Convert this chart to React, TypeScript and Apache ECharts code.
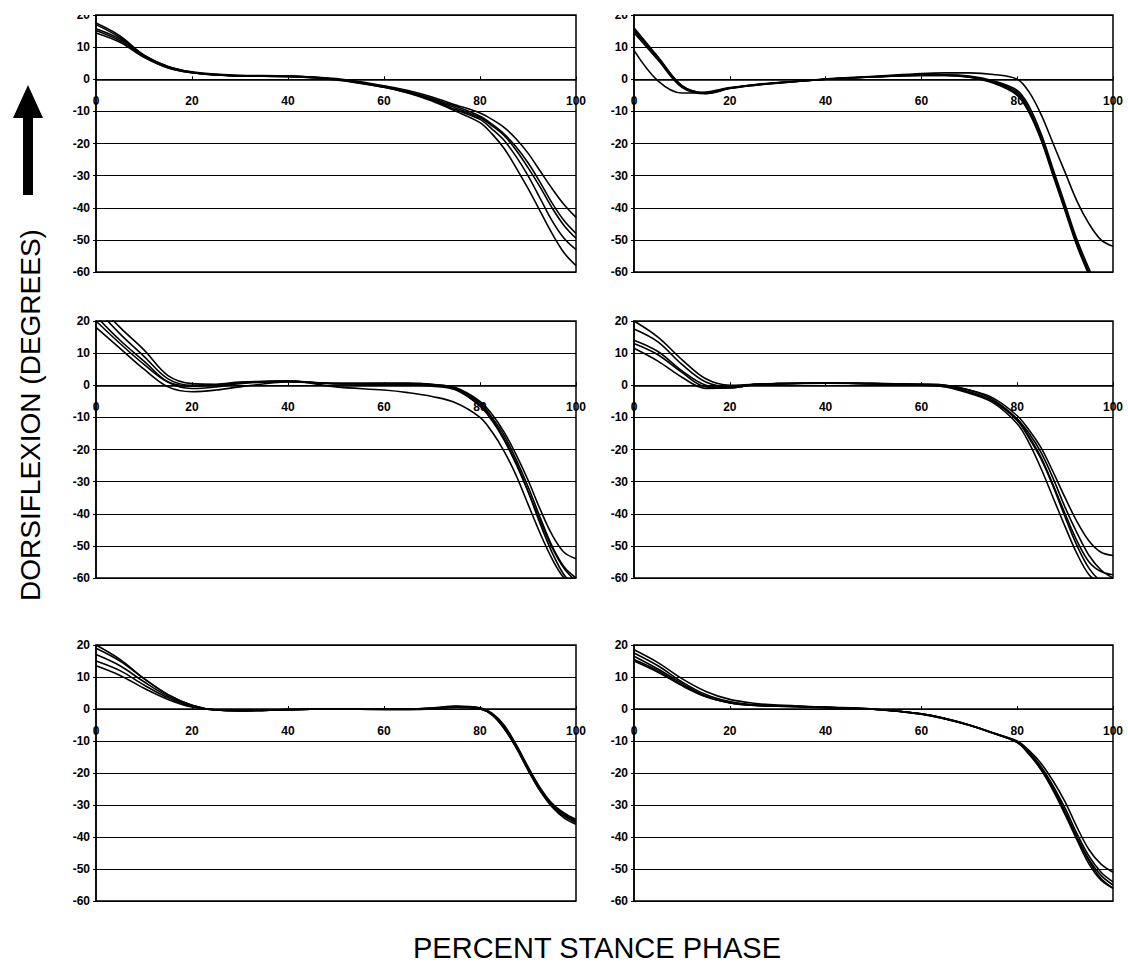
import React, { useEffect, useRef } from "react";
import * as echarts from "echarts";

// Percent stance phase sample points
const X = [0, 5, 10, 15, 20, 25, 30, 40, 50, 60, 65, 70, 75, 80, 82.5, 85, 87.5, 90, 92.5, 95, 97.5, 100];

// Y axis ticks (degrees)
const Y_MIN = -60;
const Y_MAX = 20;
const Y_STEP = 10;

// Panel A (top left)
const a1 = [17.5, 13.5, 7.5, 4.0, 2.3, 1.6, 1.2, 1.0, 0.2, -2.0, -3.5, -5.5, -8.0, -10.5, -12.5, -15.0, -18.5, -23.0, -28.5, -34.0, -39.0, -43.0];
const a2 = [17.0, 13.0, 7.5, 4.0, 2.2, 1.5, 1.1, 1.0, 0.0, -2.2, -3.8, -6.0, -8.5, -11.5, -14.0, -17.0, -21.0, -26.0, -32.0, -38.5, -44.0, -48.0];
const a3 = [15.7, 12.5, 7.2, 3.8, 2.1, 1.4, 1.0, 0.9, 0.0, -2.3, -4.0, -6.2, -9.0, -12.0, -14.5, -17.5, -22.0, -27.5, -33.5, -40.0, -45.5, -49.5];
const a4 = [15.2, 12.0, 7.0, 3.6, 2.0, 1.3, 1.0, 0.9, -0.1, -2.5, -4.2, -6.5, -9.5, -12.5, -15.5, -19.0, -24.0, -30.0, -37.0, -44.0, -49.5, -53.0];
const a5 = [14.4, 11.5, 6.8, 3.5, 2.0, 1.3, 1.0, 0.8, -0.2, -2.5, -4.3, -6.8, -10.0, -13.5, -17.0, -21.5, -27.5, -34.0, -41.0, -48.0, -54.0, -58.0];

// Panel B (top right)
const b1 = [9.0, -0.5, -4.3, -4.0, -2.6, -1.8, -1.1, 0.0, 0.8, 1.3, 1.4, 1.0, -0.5, -3.5, -8.5, -17.0, -28.0, -39.0, -50.0, -59.0, -67.0, -74.0];
const b2 = [16.0, 7.0, -2.0, -4.3, -2.8, -1.8, -1.1, 0.0, 0.8, 1.3, 1.3, 0.8, -0.8, -4.0, -9.5, -18.0, -29.0, -40.0, -51.0, -60.0, -68.0, -75.0];
const b3 = [15.5, 6.5, -2.3, -4.4, -2.8, -1.9, -1.2, 0.0, 0.7, 1.2, 1.2, 0.7, -1.0, -4.5, -10.0, -18.5, -29.5, -40.5, -51.5, -60.5, -69.0, -76.0];
const b4 = [14.5, 6.0, -2.5, -4.5, -2.9, -1.9, -1.2, 0.0, 0.7, 1.2, 1.2, 0.6, -1.2, -5.0, -10.5, -19.0, -30.0, -41.0, -52.0, -61.0, -70.0, -77.0];
const b5 = [15.0, 6.8, -2.0, -4.2, -2.7, -1.7, -1.0, 0.1, 0.9, 1.8, 2.0, 2.0, 1.5, 0.0, -4.0, -11.0, -20.0, -29.0, -38.0, -45.0, -50.0, -52.0];

// Panel C (middle left)
const c1 = [18.0, 11.5, 5.0, -0.5, -2.0, -1.5, -0.5, 1.0, 0.5, 0.3, 0.2, -0.3, -1.5, -6.5, -11.0, -17.0, -24.5, -33.0, -42.0, -50.5, -57.0, -61.0];
const c2 = [21.5, 14.0, 7.5, 1.0, -1.0, -0.5, 0.5, 1.2, 0.5, 0.5, 0.5, 0.0, -1.2, -6.0, -10.5, -16.5, -24.0, -33.0, -43.0, -52.0, -59.0, -63.0];
const c3 = [24.0, 16.0, 9.0, 2.0, 0.0, 0.0, 0.8, 1.2, 0.5, 0.6, 0.6, 0.2, -1.0, -5.5, -10.0, -15.5, -23.0, -31.5, -41.0, -50.0, -56.5, -60.0];
const c4 = [26.0, 18.0, 11.0, 3.0, 0.5, 0.3, 1.0, 1.3, 0.6, 0.6, 0.6, 0.3, -0.8, -5.0, -9.0, -14.5, -21.5, -29.5, -38.5, -46.5, -52.0, -54.0];
const c5 = [20.0, 13.0, 6.5, 1.0, -0.3, 0.0, 0.8, 1.3, -0.5, -1.5, -2.3, -3.5, -5.5, -10.0, -14.5, -20.5, -28.0, -37.0, -46.0, -54.0, -60.0, -63.0];

// Panel D (middle right)
const d1 = [20.0, 15.0, 8.0, 2.0, 0.0, 0.3, 0.5, 0.7, 0.5, 0.3, 0.0, -1.5, -4.5, -10.5, -15.0, -21.0, -29.0, -38.0, -46.0, -53.0, -57.5, -60.0];
const d2 = [17.5, 13.5, 6.5, 1.0, -0.5, 0.3, 0.5, 0.7, 0.5, 0.2, -0.3, -2.0, -5.0, -11.0, -16.5, -23.0, -31.5, -41.0, -50.0, -57.0, -61.0, -62.0];
const d3 = [14.0, 10.5, 4.5, 0.0, -0.8, 0.2, 0.5, 0.7, 0.5, 0.0, -0.5, -2.5, -5.5, -12.0, -18.0, -26.0, -35.0, -44.0, -52.5, -59.0, -62.0, -64.0];
const d4 = [13.0, 9.5, 4.0, -0.5, -0.8, 0.2, 0.5, 0.7, 0.5, 0.3, 0.0, -1.5, -4.0, -9.5, -14.0, -19.5, -27.0, -35.0, -42.5, -48.5, -52.0, -53.0];
const d5 = [11.5, 7.5, 2.5, -1.0, -0.8, 0.1, 0.4, 0.6, 0.5, 0.1, -0.4, -2.2, -5.0, -10.5, -16.0, -22.5, -31.0, -40.0, -48.5, -55.0, -58.0, -59.0];

// Panel E (bottom left)
const e1 = [20.0, 15.5, 9.5, 4.5, 1.2, -0.3, -0.5, -0.2, 0.0, 0.0, 0.0, 0.2, 0.8, 0.3, -1.5, -5.5, -11.5, -18.5, -25.0, -30.0, -33.0, -35.0];
const e2 = [19.0, 15.0, 9.5, 4.5, 1.2, -0.3, -0.5, -0.2, 0.0, -0.2, -0.2, 0.0, 0.7, 0.1, -1.8, -6.0, -12.0, -19.0, -25.5, -30.5, -33.5, -35.5];
const e3 = [17.0, 13.5, 8.5, 4.0, 1.0, -0.3, -0.5, -0.2, 0.0, 0.0, 0.0, 0.3, 0.9, 0.4, -1.3, -5.0, -11.0, -18.0, -24.5, -29.5, -32.5, -34.5];
const e4 = [15.0, 12.0, 7.5, 3.5, 0.8, -0.3, -0.5, -0.2, 0.0, -0.1, 0.0, 0.2, 0.8, 0.2, -1.6, -5.5, -11.5, -18.5, -25.0, -30.0, -33.0, -35.0];
const e5 = [13.5, 10.5, 6.5, 3.0, 0.6, -0.3, -0.5, -0.2, 0.0, 0.0, 0.0, 0.2, 0.6, 0.0, -1.8, -6.0, -12.0, -19.0, -25.5, -30.5, -34.0, -36.0];

// Panel F (bottom right)
const f1 = [18.5, 14.5, 9.5, 5.5, 3.0, 1.8, 1.2, 0.6, 0.0, -1.5, -3.0, -5.0, -7.5, -10.0, -13.0, -17.0, -22.5, -29.0, -37.0, -44.0, -48.5, -51.0];
const f2 = [17.5, 13.5, 8.5, 4.5, 2.3, 1.3, 1.0, 0.5, -0.1, -1.5, -3.0, -5.0, -7.5, -10.2, -13.5, -18.0, -24.0, -31.0, -39.0, -46.0, -51.0, -54.0];
const f3 = [16.5, 12.5, 8.0, 4.0, 2.0, 1.2, 1.0, 0.5, -0.1, -1.5, -3.0, -5.0, -7.5, -10.3, -14.0, -18.5, -24.5, -32.0, -40.0, -47.0, -52.0, -55.0];
const f4 = [15.5, 12.0, 7.5, 4.0, 2.0, 1.2, 0.9, 0.5, -0.1, -1.6, -3.1, -5.1, -7.6, -10.4, -14.0, -19.0, -25.0, -32.5, -40.5, -47.5, -53.0, -56.0];
const f5 = [15.0, 11.5, 7.3, 3.8, 1.9, 1.1, 0.9, 0.4, -0.1, -1.6, -3.1, -5.1, -7.6, -10.5, -14.2, -19.0, -25.5, -33.0, -41.0, -48.5, -53.5, -56.0];

const PANEL_CURVES = [
  [a1, a2, a3, a4, a5],
  [b1, b2, b3, b4, b5],
  [c1, c2, c3, c4, c5],
  [d1, d2, d3, d4, d5],
  [e1, e2, e3, e4, e5],
  [f1, f2, f3, f4, f5],
];

const X_TITLE = "PERCENT STANCE PHASE";
const Y_TITLE = "DORSIFLEXION (DEGREES)";

const FONT = '"Liberation Sans", Arial, Helvetica, sans-serif';

// layout (px)
const COLS = [
  { left: 96, width: 480 },
  { left: 634, width: 479 },
];
const ROWS = [
  { top: 15, height: 257 },
  { top: 321, height: 257 },
  { top: 645, height: 256 },
];

export default function App() {
  const ref = useRef<HTMLDivElement | null>(null);

  useEffect(() => {
    document.body.style.margin = "0";
    if (!ref.current) return;
    const chart = echarts.init(ref.current, null, { renderer: "svg" });

    const grids: any[] = [];
    const xAxes: any[] = [];
    const yAxes: any[] = [];
    const series: any[] = [];

    PANEL_CURVES.forEach((curves, i) => {
      const col = COLS[i % 2];
      const row = ROWS[Math.floor(i / 2)];
      // distance from the bottom of the plot (Y_MIN) up to the zero line
      const zeroOffset = (row.height * (0 - Y_MIN)) / (Y_MAX - Y_MIN);
      grids.push({
        left: col.left,
        top: row.top,
        width: col.width,
        height: row.height,
        show: true,
        borderColor: "#000",
        borderWidth: 1.5,
        backgroundColor: "transparent",
        containLabel: false,
      });
      xAxes.push({
        gridIndex: i,
        type: "value",
        position: "bottom",
        offset: -zeroOffset,
        min: 0,
        max: 100,
        interval: 20,
        axisLine: { show: true, onZero: false, lineStyle: { color: "#000", width: 1.5 } },
        axisTick: { show: true, inside: true, length: 3, lineStyle: { color: "#000", width: 1 } },
        axisLabel: {
          color: "#000",
          fontWeight: "bold",
          fontSize: 12,
          fontFamily: FONT,
          margin: 16,
          showMinLabel: true,
          showMaxLabel: true,
        },
        splitLine: { show: false },
      });
      yAxes.push({
        gridIndex: i,
        type: "value",
        min: Y_MIN,
        max: Y_MAX,
        interval: Y_STEP,
        axisLine: { show: true, onZero: false, lineStyle: { color: "#000", width: 1.5 } },
        axisTick: { show: true, length: 3, lineStyle: { color: "#000", width: 1 } },
        axisLabel: {
          color: "#000",
          fontWeight: "bold",
          fontSize: 12,
          fontFamily: FONT,
          margin: 6,
        },
        splitLine: { show: true, lineStyle: { color: "#000", width: 1 } },
      });
      curves.forEach((c, k) => {
        series.push({
          name: `panel${i + 1}-curve${k + 1}`,
          type: "line",
          xAxisIndex: i,
          yAxisIndex: i,
          data: X.map((x, j) => [x, c[j]]),
          smooth: 0.35,
          showSymbol: false,
          symbol: "none",
          clip: true,
          silent: true,
          lineStyle: { color: "#000", width: 1.6 },
          z: 3,
        });
      });
    });

    chart.setOption({
      animation: false,
      backgroundColor: "#fff",
      grid: grids,
      xAxis: xAxes,
      yAxis: yAxes,
      series,
      graphic: [
        // white masks emulating the cropped top tick labels
        { type: "rect", left: 55, top: 0, shape: { width: 38, height: 15 }, style: { fill: "#fff" }, z: 100 },
        { type: "rect", left: 593, top: 0, shape: { width: 38, height: 15 }, style: { fill: "#fff" }, z: 100 },
        // arrow
        {
          type: "polygon",
          shape: {
            points: [
              [28, 85],
              [43, 118],
              [33, 118],
              [33, 195],
              [23, 195],
              [23, 118],
              [13, 118],
            ],
          },
          style: { fill: "#000" },
          z: 100,
        },
        {
          type: "text",
          x: 30,
          y: 415,
          rotation: Math.PI / 2,
          style: {
            text: Y_TITLE,
            fontSize: 28,
            fontFamily: FONT,
            fill: "#000",
            align: "center",
            verticalAlign: "middle",
          },
          z: 100,
        },
        {
          type: "text",
          x: 597,
          y: 948,
          style: {
            text: X_TITLE,
            fontSize: 29,
            fontFamily: FONT,
            fill: "#000",
            align: "center",
            verticalAlign: "middle",
          },
          z: 100,
        },
      ],
    });

    return () => {
      chart.dispose();
    };
  }, []);

  return <div ref={ref} style={{ width: 1128, height: 964 }} />;
}
